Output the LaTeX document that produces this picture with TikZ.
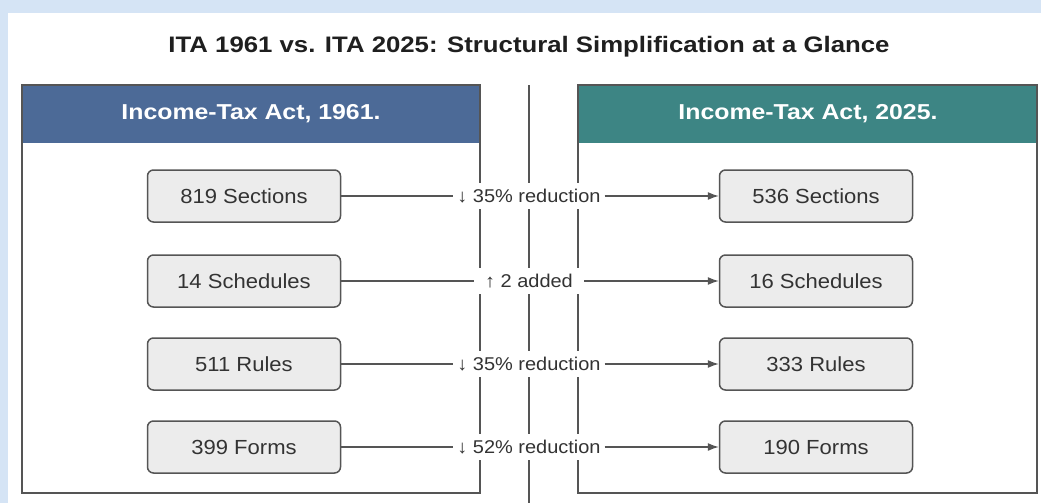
\documentclass[tikz,border=0pt]{standalone}
\usepackage{fontspec}
\setmainfont{Liberation Sans}[FakeStretch=1.08]
\newfontfamily\headfont{Liberation Sans}[FakeStretch=1.15]
\usetikzlibrary{arrows.meta,positioning}
\definecolor{bgblue}{HTML}{D5E4F5}
\definecolor{oldhead}{HTML}{4C6A97}
\definecolor{newhead}{HTML}{3D8584}
\definecolor{boxfill}{HTML}{ECECEC}
\definecolor{linegray}{HTML}{555555}
\definecolor{txtgray}{HTML}{333333}
\tikzset{
  countbox/.style={draw=linegray,line width=1.5pt,fill=boxfill,rounded corners=6pt,
    minimum width=193pt,minimum height=52pt,text=txtgray,font=\fontsize{20.4}{24}\selectfont},
  changelabel/.style={fill=white,inner xsep=2pt,inner ysep=6pt,outer sep=2pt,
    minimum width=106pt,text=txtgray,font=\fontsize{18.5}{22}\selectfont},
  headtext/.style={text=white,font=\headfont\bfseries\fontsize{21.6}{26}\selectfont},
  link/.style={draw=linegray,line width=1.2pt},
  panel/.style={draw=linegray,line width=1.6pt},
}

\begin{document}
\begin{tikzpicture}[x=1pt,y=-1pt]
% background
\fill[bgblue] (0,0) rectangle (1041,503);
\fill[white] (8,13) rectangle (1041,503);
\useasboundingbox (0,0) rectangle (1041,503);
\node[text=black!88,font=\headfont\bfseries\fontsize{22.4}{27}\selectfont] (title) at (529,47)
  {ITA 1961 vs. ITA 2025: Structural Simplification at a Glance};

% the two panels
\fill[oldhead] (22,85) rectangle (480,143);
\fill[newhead] (578,85) rectangle (1037,143);
\draw[panel] (22,85) rectangle (480,493);
\draw[panel] (578,85) rectangle (1037,493);
\node[headtext] (oldact) at (251,114) {Income-Tax Act, 1961.};
\node[headtext] (newact) at (808,114) {Income-Tax Act, 2025.};

% divider
\coordinate (divtop) at (529,85);
\coordinate (divbot) at (529,503);
\draw[panel] (divtop) -- (divbot);

% 1961 counts
\node[countbox] (sec61) at (244,196) {819 Sections};
\node[countbox] (sch61) at (244,281) {14 Schedules};
\node[countbox] (rul61) at (244,364) {511 Rules};
\node[countbox] (frm61) at (244,447) {399 Forms};

% 2025 counts
\node[countbox] (sec25) at (816,196) {536 Sections};
\node[countbox] (sch25) at (816,281) {16 Schedules};
\node[countbox] (rul25) at (816,364) {333 Rules};
\node[countbox] (frm25) at (816,447) {190 Forms};

% changes
\node[changelabel] (secchg) at (529,196) {↓ 35\% reduction};
\node[changelabel] (schchg) at (529,281) {↑ 2 added};
\node[changelabel] (rulchg) at (529,364) {↓ 35\% reduction};
\node[changelabel] (frmchg) at (529,447) {↓ 52\% reduction};

\draw[link] (sec61) -- (secchg);
\draw[link] (sch61) -- (schchg);
\draw[link] (rul61) -- (rulchg);
\draw[link] (frm61) -- (frmchg);
\draw[link,-{Latex[length=11pt,width=8pt]}] (secchg) -- (sec25);
\draw[link,-{Latex[length=11pt,width=8pt]}] (schchg) -- (sch25);
\draw[link,-{Latex[length=11pt,width=8pt]}] (rulchg) -- (rul25);
\draw[link,-{Latex[length=11pt,width=8pt]}] (frmchg) -- (frm25);
\end{tikzpicture}
\end{document}
